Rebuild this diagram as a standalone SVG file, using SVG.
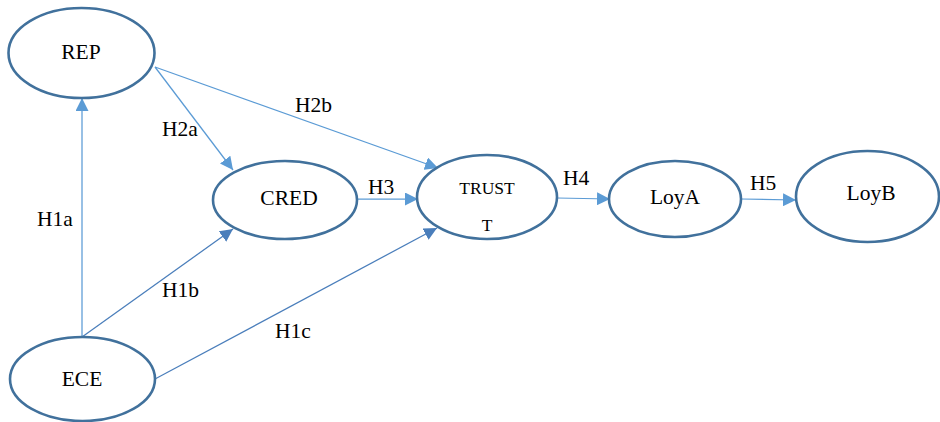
<svg xmlns="http://www.w3.org/2000/svg" width="940" height="422" viewBox="0 0 940 422">
  <style>
    .node { fill: #ffffff; stroke: #41719c; stroke-width: 2.6; }
    .lbl { font-family: "Liberation Serif", "Times New Roman", serif; font-size: 21.5px; fill: #000000; }
    .name { font-family: "Liberation Serif", "Times New Roman", serif; font-size: 21.5px; fill: #000000; text-anchor: middle; }
    .small { font-size: 17.5px; }
    .edge { fill: none; stroke-width: 1.25; }
    .light { stroke: #5b9bd5; }
    .dark { stroke: #4a7ebb; }
  </style>
  <defs>
    <marker id="arrowLight" markerUnits="userSpaceOnUse" markerWidth="13" markerHeight="13" refX="13" refY="6.5" orient="auto">
      <path d="M0,0 L13,6.5 L0,13 Z" fill="#5b9bd5"/>
    </marker>
    <marker id="arrowDark" markerUnits="userSpaceOnUse" markerWidth="13" markerHeight="13" refX="13" refY="6.5" orient="auto">
      <path d="M0,0 L13,6.5 L0,13 Z" fill="#4a7ebb"/>
    </marker>
  </defs>
  <rect width="940" height="422" fill="#ffffff"/>

  <!-- connectors -->
  <g id="connectors">
    <line class="edge light" x1="82" y1="337" x2="82" y2="98" marker-end="url(#arrowLight)"/>
    <line class="edge light" x1="155" y1="67" x2="233" y2="170" marker-end="url(#arrowLight)"/>
    <line class="edge light" x1="155" y1="67" x2="438" y2="168" marker-end="url(#arrowLight)"/>
    <line class="edge dark" x1="82" y1="337" x2="233" y2="229" marker-end="url(#arrowDark)"/>
    <line class="edge dark" x1="155" y1="379" x2="437" y2="228" marker-end="url(#arrowDark)"/>
    <line class="edge light" x1="357" y1="199" x2="418" y2="199" marker-end="url(#arrowLight)"/>
    <line class="edge light" x1="557" y1="198" x2="610" y2="199" marker-end="url(#arrowLight)"/>
    <line class="edge light" x1="741" y1="199" x2="796" y2="200" marker-end="url(#arrowLight)"/>
  </g>

  <!-- path labels -->
  <g id="labels">
    <text class="lbl" x="37" y="226">H1a</text>
    <text class="lbl" x="162" y="136">H2a</text>
    <text class="lbl" x="295" y="112">H2b</text>
    <text class="lbl" x="162" y="297">H1b</text>
    <text class="lbl" x="275" y="338">H1c</text>
    <text class="lbl" x="368" y="194">H3</text>
    <text class="lbl" x="563" y="185">H4</text>
    <text class="lbl" x="750" y="190">H5</text>
  </g>

  <!-- nodes -->
  <g id="node-rep">
    <ellipse class="node" cx="81.5" cy="53" rx="73" ry="45"/>
    <text class="name" x="81" y="59">REP</text>
  </g>
  <g id="node-ece">
    <ellipse class="node" cx="82.5" cy="379" rx="72.5" ry="42"/>
    <text class="name" x="82" y="386">ECE</text>
  </g>
  <g id="node-cred">
    <ellipse class="node" cx="285" cy="200" rx="72" ry="39"/>
    <text class="name" x="289" y="205">CRED</text>
  </g>
  <g id="node-trust">
    <ellipse class="node" cx="487" cy="197" rx="70" ry="42"/>
    <text class="name small" x="487" y="194">TRUST</text>
    <text class="name small" x="487" y="231">T</text>
  </g>
  <g id="node-loya">
    <ellipse class="node" cx="675" cy="199" rx="66" ry="38"/>
    <text class="name" x="675" y="204">LoyA</text>
  </g>
  <g id="node-loyb">
    <ellipse class="node" cx="867.5" cy="196.5" rx="71.5" ry="45.5"/>
    <text class="name" x="871" y="200">LoyB</text>
  </g>
</svg>
